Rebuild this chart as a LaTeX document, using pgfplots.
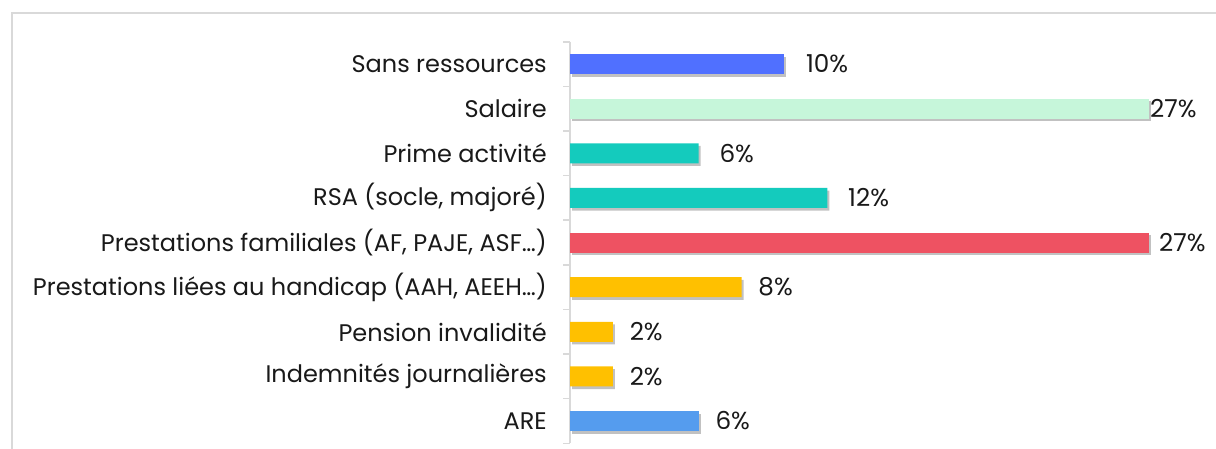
\documentclass[border=0pt]{standalone}
\usepackage{pgfplots}
\pgfplotsset{compat=1.18}
\usepackage{fontspec}
\setmainfont{Poppins}
\usetikzlibrary{shadows}
\definecolor{cBlueA}{HTML}{5070FF}
\definecolor{cMint}{HTML}{C6F6DA}
\definecolor{cTeal}{HTML}{14CBBD}
\definecolor{cRed}{HTML}{EE5262}
\definecolor{cYellow}{HTML}{FFC000}
\definecolor{cBlueB}{HTML}{559CEE}
\definecolor{cFrame}{HTML}{D9D9D9}
\begin{document}
\begin{tikzpicture}
\useasboundingbox (0,0) rectangle (912pt,336.75pt);
\draw[cFrame, line width=1.5pt] (9pt,-2pt) -- (9pt,327pt) -- (914pt,327pt);
\begin{axis}[
  at={(427.5pt,4.275pt)}, anchor=south west,
  scale only axis, width=482.4pt, height=301.2pt,
  xbar, bar shift=0pt, bar width=15pt,
  xmin=0, xmax=30,
  ymin=-0.5, ymax=8.5, y dir=reverse,
  axis x line=none,
  axis y line*=left,
  y axis line style={cFrame, line width=1.2pt, -},
  ytick={0,...,8},
  yticklabels={Sans ressources, Salaire, Prime activité, {RSA (socle, majoré)}, {Prestations familiales (AF, PAJE, ASF…)}, {Prestations liées au handicap (AAH, AEEH…)}, Pension invalidité, Indemnités journalières, ARE},
  minor ytick={-0.5,0.5,...,8.5},
  major tick length=0pt, minor tick length=5pt,
  tick align=outside,
  minor tick style={cFrame, line width=1.2pt},
  yticklabel style={font=\fontsize{18}{21}\selectfont, inner sep=0pt, xshift=-17.25pt, text=black!90},
  clip=false,
  point meta=x,
  /pgf/number format/assume math mode=true,
  nodes near coords={\pgfmathprintnumber{\pgfplotspointmeta}\%},
  every node near coord/.append style={font=\fontsize{18.5}{21}\selectfont, inner sep=0pt, anchor=west, text=black!90},
  every axis plot/.append style={draw=none, drop shadow={shadow xshift=1.5pt, shadow yshift=-2pt, opacity=0.3, fill=black!80}},
]
\addplot[fill=cBlueA, every node near coord/.append style={xshift=16pt}] coordinates {(10,0)};
\addplot[fill=cMint, every node near coord/.append style={xshift=0.8pt}] coordinates {(27,1)};
\addplot[fill=cTeal, every node near coord/.append style={xshift=15.5pt}] coordinates {(6,2) (12,3)};
\addplot[fill=cRed, every node near coord/.append style={xshift=7.5pt}] coordinates {(27,4)};
\addplot[fill=cYellow, every node near coord/.append style={xshift=12.5pt}] coordinates {(8,5) (2,6) (2,7)};
\addplot[fill=cBlueB, every node near coord/.append style={xshift=12.5pt}] coordinates {(6,8)};
\end{axis}
\end{tikzpicture}
\end{document}
